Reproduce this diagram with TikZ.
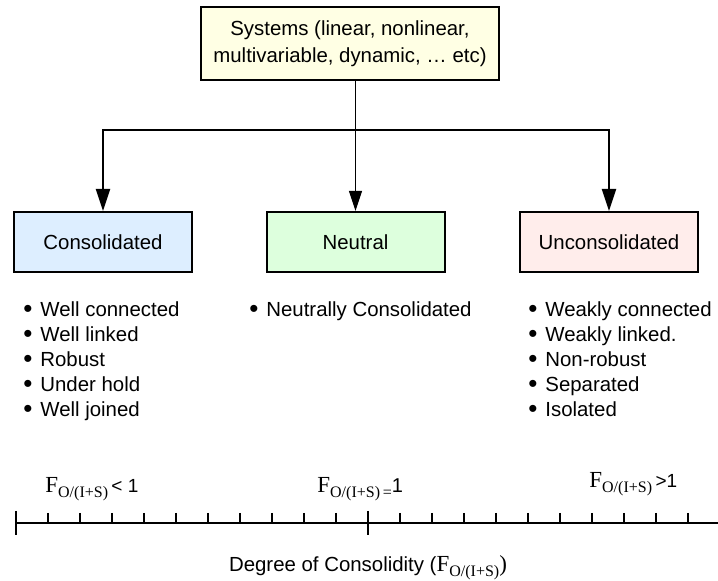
\documentclass[tikz,border=0pt]{standalone}
\usepackage{fontspec}
\setmainfont{Liberation Sans}
\newfontfamily\timesfont{Liberation Serif}
\usetikzlibrary{arrows.meta}

\definecolor{sysfill}{HTML}{FFFFE4}
\definecolor{consfill}{HTML}{DDEEFF}
\definecolor{neufill}{HTML}{DDFFDD}
\definecolor{unconsfill}{HTML}{FFEDEB}

% F with its O/(I+S) index, set in a serif face
\newcommand{\Findex}[1]{{\timesfont\fontsize{11.5}{13}\selectfont F}{\timesfont\fontsize{8}{9}\selectfont\raisebox{-2.5pt}{O/(I+S)#1}}}
\newcommand{\bulletline}[1]{\makebox[8.5pt][l]{\raisebox{-0.6pt}{\fontsize{13}{12}\selectfont•}}#1}

\begin{document}
\begin{tikzpicture}[x=0.5pt, y=-0.5pt, every node/.style={font=\fontsize{10.2}{13.5}\selectfont},
    catbox/.style={draw, line width=1pt, minimum width=89pt, minimum height=30pt},
    itemlist/.style={anchor=north west, align=left, inner sep=0pt, font=\fontsize{10.2}{12.5}\selectfont},
    thickarrow/.style={line width=1pt, -{Triangle[length=11pt, width=7pt]}},
    thinarrow/.style={line width=0.6pt, -{Triangle[length=10pt, width=6.5pt]}}]
	\useasboundingbox (0,0) rectangle (718,581);

	% Nodes
	\node[draw, line width=1pt, fill=sysfill, align=center, minimum width=149pt, minimum height=36.5pt] (sys) at (350,43.5) {Systems (linear, nonlinear,\\multivariable, dynamic, … etc)};
	\node[catbox, fill=consfill] (cons) at (103,242) {Consolidated};
	\node[catbox, fill=neufill] (neu) at (355.5,242) {Neutral};
	\node[catbox, fill=unconsfill] (uncons) at (609,242) {Unconsolidated};
	\coordinate (split) at (355.5,130);

	% Edges
	\draw[thinarrow] (neu.north |- sys.south) -- (neu.north);
	\draw[thickarrow] (split) -| (cons.north);
	\draw[thickarrow] (split) -| (uncons.north);

	% Lists
	\node[itemlist] (conslist) at (23,301) {\bulletline{Well connected}\\\bulletline{Well linked}\\\bulletline{Robust}\\\bulletline{Under hold}\\\bulletline{Well joined}};
	\node[itemlist] (neulist) at (249,301) {\bulletline{Neutrally Consolidated}};
	\node[itemlist] (unconslist) at (528,301) {\bulletline{Weakly connected}\\\bulletline{Weakly linked.}\\\bulletline{Non-robust}\\\bulletline{Separated}\\\bulletline{Isolated}};

	% Scale
	\draw[line width=0.9pt] (16,523) -- (718,523);
	\foreach \k in {1,...,10,12,13,...,21}
		\draw[line width=0.7pt] (16+32*\k,513) -- (16+32*\k,523);
	\foreach \x in {16,368}
		\draw[line width=0.7pt] (\x,511) -- (\x,535);

	\node[anchor=west, inner sep=0pt] (lowlabel) at (45,489) {\Findex{}\,{\fontsize{9.5}{10}\selectfont< 1}};
	\node[anchor=west, inner sep=0pt] (midlabel) at (317,489) {\Findex{\,=}{\fontsize{10}{10}\selectfont 1}};
	\node[anchor=west, inner sep=0pt] (highlabel) at (589,484) {\Findex{}\,{\fontsize{9.5}{10}\selectfont>1}};
	\node (axislabel) at (368,568) {Degree of Consolidity (\Findex{}{\timesfont\fontsize{11.5}{13}\selectfont)}};
\end{tikzpicture}
\end{document}
